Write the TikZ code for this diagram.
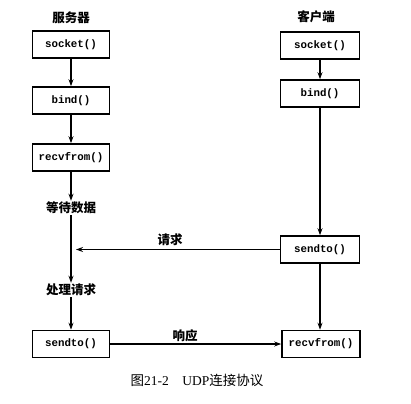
\documentclass[tikz,border=0pt]{standalone}
\usepackage{fontspec}
\setmainfont{Liberation Serif}
\setmonofont{Liberation Mono}
\newfontfamily\cjk{Noto Sans CJK SC}
\usetikzlibrary{arrows.meta}
\tikzset{
  callbox/.style={draw,line width=1.6pt,minimum width=77pt,minimum height=27pt,
    inner sep=0pt,font=\fontsize{10.8}{12}\selectfont\ttfamily\bfseries},
  steplabel/.style={font=\fontsize{12.5}{14}\selectfont\cjk\bfseries,inner sep=1pt},
  flow/.style={line width=1.4pt,-{Stealth[length=7pt,width=5pt]}},
  plain/.style={line width=1.4pt}
}
\begin{document}
\begin{tikzpicture}[x=1pt,y=-1pt]
\useasboundingbox (0,0) rectangle (411,403);
% server side
\node[steplabel] (srvTitle) at (71,18) {服务器};
\node[callbox] (srvSocket) at (71,44.5) {socket()};
\node[callbox] (srvBind) at (71,100.5) {bind()};
\node[callbox] (srvRecv) at (71,157.5) {recvfrom()};
\node[steplabel] (srvWait) at (71,208) {等待数据};
\node[steplabel] (srvHandle) at (71,290) {处理请求};
\node[callbox] (srvSend) at (71,344) {sendto()};
% client side
\node[steplabel] (cliTitle) at (316,17) {客户端};
\node[callbox,minimum width=79pt] (cliSocket) at (320,45.5) {socket()};
\node[callbox,minimum width=79pt] (cliBind) at (320,93.5) {bind()};
\node[callbox,minimum width=79pt] (cliSend) at (320,249.5) {sendto()};
\node[callbox,minimum width=78pt] (cliRecv) at (321,344) {recvfrom()};
% arrows
\draw[flow] (srvSocket) -- (srvBind);
\draw[flow] (srvBind) -- (srvRecv);
\draw[flow] (srvRecv) -- (srvWait);
\draw[flow] (srvWait) -- (srvHandle);
\draw[flow] (srvHandle) -- (srvSend);
\draw[flow] (cliSocket) -- (cliBind);
\draw[flow] (cliBind) -- (cliSend);
\draw[flow] (cliSend) -- (cliRecv.north -| cliSend);
\coordinate (reqEnd) at (76,249.5);
\draw[flow] (cliSend) -- (reqEnd);
\node[steplabel] (reqLabel) at (170,240) {请求};
\draw[flow] (srvSend) -- (cliRecv);
\node[steplabel] (respLabel) at (185,336) {响应};
% caption
\node[font=\fontsize{13.5}{16}\selectfont] (caption) at (197,380)
  {{\cjk 图}21-2\hspace{1em}UDP{\cjk 连接协议}};
\end{tikzpicture}
\end{document}
